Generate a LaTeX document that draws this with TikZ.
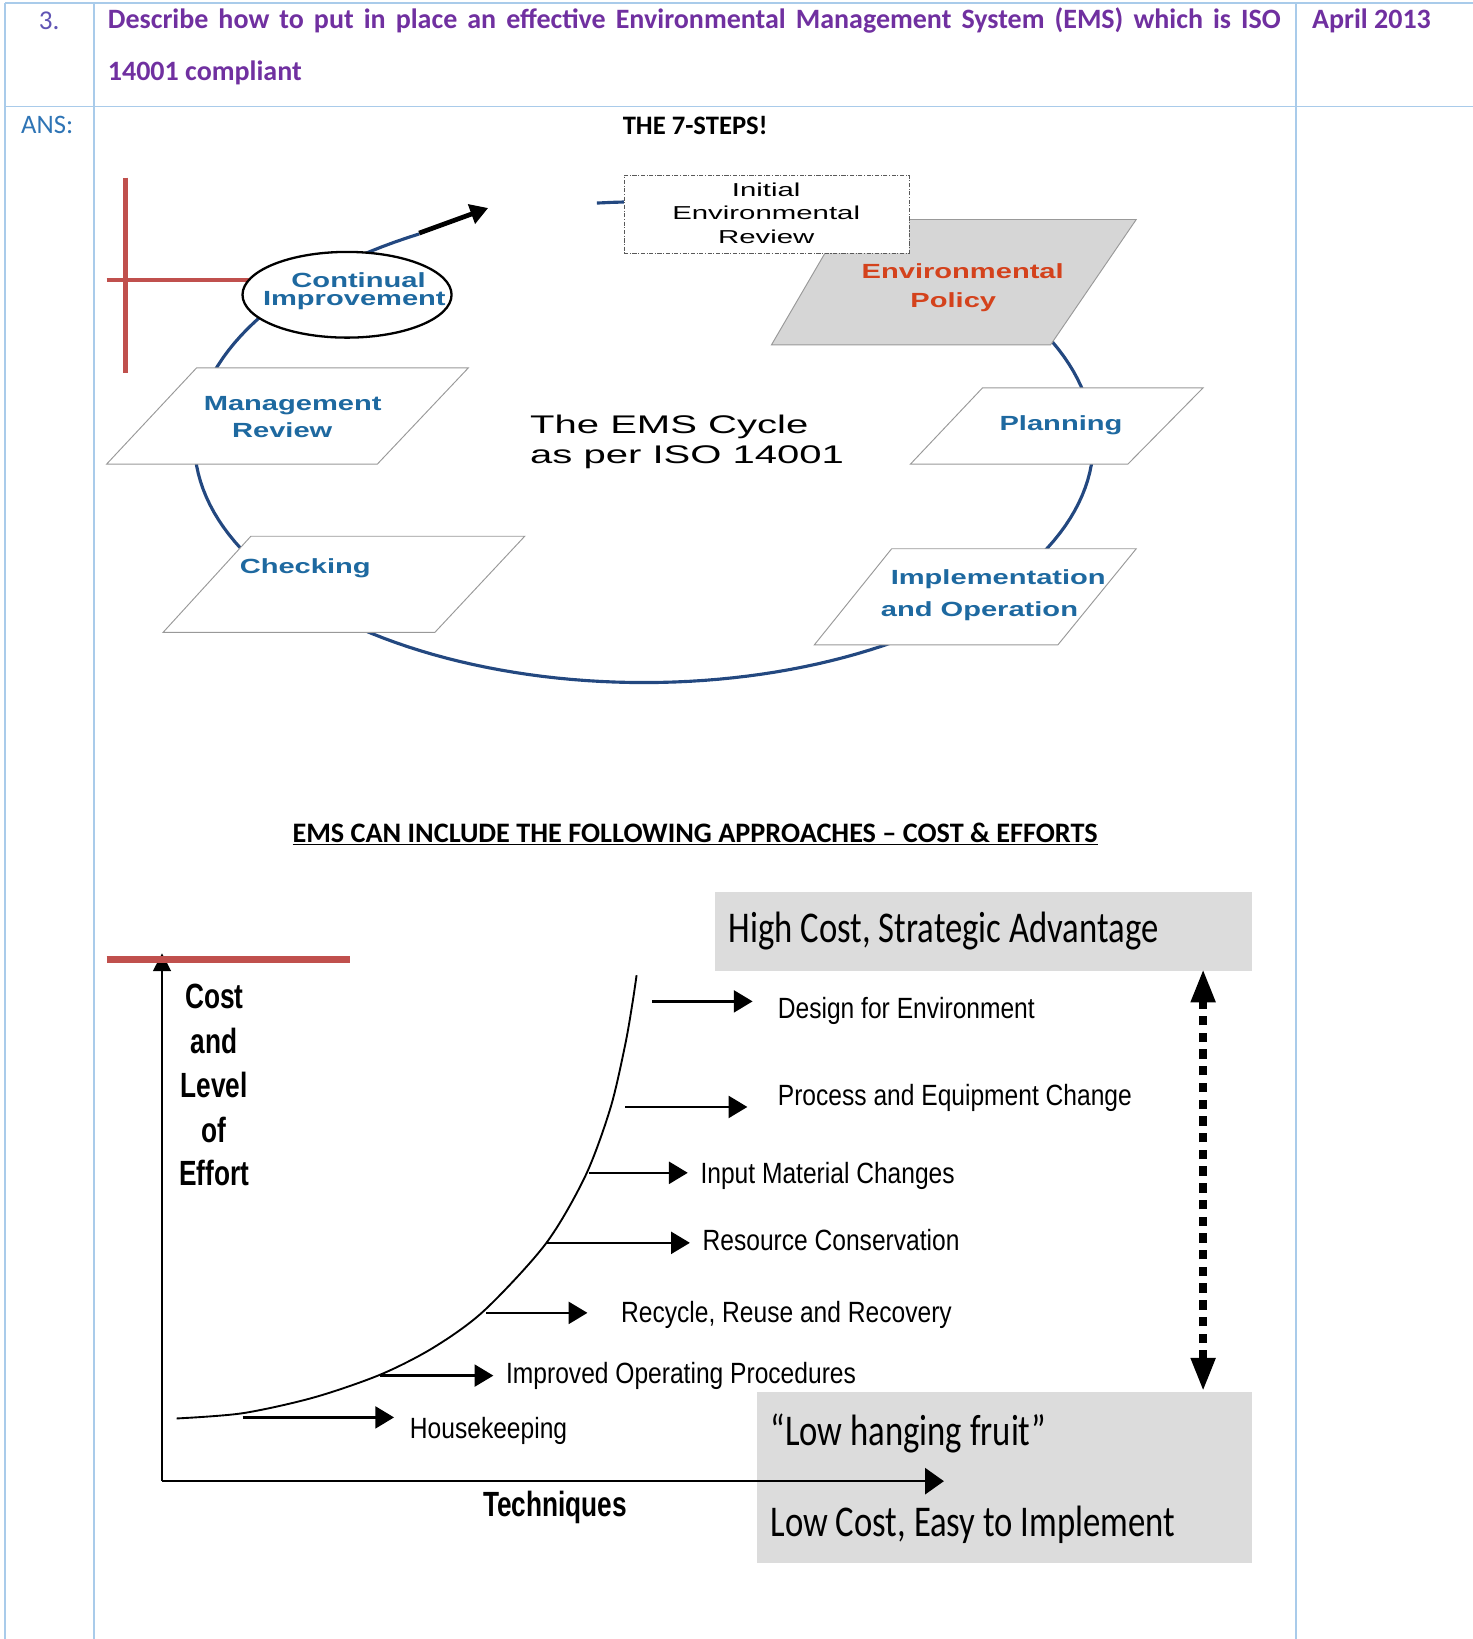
\documentclass[tikz,border=0pt]{standalone}
\usepackage{fontspec}
\setmainfont{Carlito}
\newfontfamily\arialf{Liberation Sans}
\usetikzlibrary{arrows.meta,shapes.geometric}
\definecolor{tbl}{HTML}{A9CBEA}
\definecolor{hdrpurple}{HTML}{7030A0}
\definecolor{numblue}{RGB}{96,84,180}
\definecolor{ansblue}{HTML}{2E74B5}
\definecolor{cycblue}{RGB}{35,72,128}
\definecolor{lblblue}{RGB}{30,105,160}
\definecolor{polred}{RGB}{212,66,28}
\definecolor{crossred}{HTML}{C0504D}
\definecolor{boxgray}{HTML}{DCDCDC}
\definecolor{polgray}{HTML}{D6D6D6}
\newcommand{\wideb}[1]{\scalebox{1.42}[1]{#1}}
\newcommand{\wider}[1]{\scalebox{1.57}[1]{#1}}
\newcommand{\narr}[1]{\scalebox{0.84}[1]{#1}}
\newcommand{\narb}[1]{\scalebox{0.75}[1]{#1}}
\newcommand{\narc}[1]{\scalebox{0.79}[1]{#1}}
\begin{document}
\begin{tikzpicture}[x=1pt,y=-1pt,
  tline/.style={draw=tbl, line width=1.6pt},
  hdr/.style={font=\fontsize{26.8}{30}\selectfont\bfseries, text=hdrpurple, inner sep=0pt, anchor=west},
  cyclbl/.style={font=\arialf\bfseries\fontsize{19.6}{22}\selectfont, text=lblblue, inner sep=0pt},
  revtxt/.style={font=\arialf\fontsize{17.9}{20}\selectfont, inner sep=0pt},
  midtxt/.style={font=\arialf\fontsize{24.4}{28}\selectfont, inner sep=0pt, anchor=west},
  para/.style={draw=gray!80, line width=0.9pt, fill=white},
  lab/.style={font=\arialf\fontsize{28}{32}\selectfont, inner sep=0pt, anchor=west},
  labb/.style={font=\arialf\bfseries\fontsize{33.5}{36}\selectfont, inner sep=0pt},
  bigc/.style={font=\fontsize{42}{46}\selectfont, inner sep=0pt, anchor=west},
  harrow/.style={line width=2.4pt, -{Triangle[length=18pt,width=21pt]}},
]
\useasboundingbox (0,0) rectangle (1409,1568);

% ---------- table ----------
\draw[tline] (5,3) -- (1409,3);
\draw[tline] (5,102) -- (1409,102);
\draw[tline] (5,3) -- (5,1568);
\draw[tline] (90,3) -- (90,1568);
\draw[tline] (1240,3) -- (1240,1568);

\node[font=\fontsize{26}{30}\selectfont, text=numblue, inner sep=0pt] (num) at (47,20) {3.};
\node[hdr] (q1) at (103,20) {\makebox[1122pt][s]{Describe how to put in place an effective Environmental Management System (EMS) which is ISO}};
\node[hdr] (q2) at (103,70) {14001 compliant};
\node[hdr] (date) at (1255,20) {April 2013};
\node[font=\fontsize{25.5}{30}\selectfont, text=ansblue, inner sep=0pt, anchor=west] (ans) at (20,120) {ANS:};
\node[font=\fontsize{25.5}{30}\selectfont\bfseries, inner sep=0pt] (steps) at (665,120) {THE 7-STEPS!};

% ---------- EMS cycle ----------
\draw[crossred, line width=4.5pt] (120,170) -- (120,357);
\draw[crossred, line width=4.5pt] (102,268) -- (240,268);

\draw[cycblue, line width=3pt] plot[domain=120:456, samples=180] ({616+430*cos(\x)},{423-230*sin(\x)});
\draw[line width=4.5pt, -{Triangle[length=17pt,width=19pt]}] (401,223) -- (467,199);

\node[draw, line width=2.2pt, fill=white, ellipse, minimum width=200pt, minimum height=82pt, inner sep=0pt] (ci) at (332,282) {};
\node[cyclbl] (ci1) at (343,268) {\wideb{Continual}};
\node[cyclbl] (ci2) at (339,288) {\wideb{Improvement}};

\draw[draw=gray!80, line width=0.9pt, fill=polgray] (808,210) -- (1087,210) -- (1005,330) -- (738,330) -- cycle;
\node[cyclbl, text=polred] (ep1) at (921,259) {\wideb{Environmental}};
\node[cyclbl, text=polred] (ep2) at (912,289) {\wideb{Policy}};

\node[draw=gray!70!black, dash pattern=on 4pt off 1.5pt on 1pt off 1.5pt, line width=0.8pt, fill=white, minimum width=273pt, minimum height=74pt, inner sep=0pt] (ier) at (733.5,205) {};
\node[revtxt] (ier1) at (733,182) {\wider{Initial}};
\node[revtxt] (ier2) at (733,204) {\wider{Environmental}};
\node[revtxt] (ier3) at (733,227) {\wider{Review}};

\draw[para] (940,371) -- (1151,371) -- (1079,444) -- (871,444) -- cycle;
\node[cyclbl] (plan) at (1015,407) {\wideb{Planning}};

\draw[para] (853,525) -- (1087,525) -- (1012,617) -- (779,617) -- cycle;
\node[cyclbl] (imp1) at (955,554) {\wideb{Implementation}};
\node[cyclbl] (imp2) at (937,585) {\wideb{and Operation}};

\draw[para] (240,513) -- (502,513) -- (416,605) -- (156,605) -- cycle;
\node[cyclbl] (chk) at (292,544) {\wideb{Checking}};

\draw[para] (188,352) -- (448,352) -- (361,444) -- (102,444) -- cycle;
\node[cyclbl] (mr1) at (280,388) {\wideb{Management}};
\node[cyclbl] (mr2) at (270,412) {\wideb{Review}};

\node[midtxt] (mid1) at (507,408) {\wider{The EMS Cycle}};
\node[midtxt] (mid2) at (507,437) {\wider{as per ISO 14001}};

% ---------- lower chart ----------
\node[font=\fontsize{27}{30}\selectfont\bfseries, inner sep=0pt] (title) at (665,798) {\underline{EMS CAN INCLUDE THE FOLLOWING APPROACHES – COST \& EFFORTS}};

\fill[boxgray] (684,853) rectangle (1198,929);
\fill[boxgray] (724,1332) rectangle (1198,1495);
\node[bigc] (hc) at (697,891) {\narc{High Cost, Strategic Advantage}};
\node[bigc] (lh) at (737,1371) {\narc{“Low hanging fruit”}};
\node[bigc] (lc) at (737,1459) {\narc{Low Cost, Easy to Implement}};

\coordinate (yb) at (155,1417);
\coordinate (yt) at (155,912);
\coordinate (xl) at (155,1417);
\coordinate (xr) at (903,1417);
\draw[line width=2pt, -{Triangle[length=17pt,width=17pt]}] (yb) -- (yt);
\draw[line width=2.2pt, -{Triangle[length=18pt,width=25pt]}] (xl) -- (xr);
\draw[crossred, line width=6pt] (102,918) -- (335,918);

\node[labb] (c1) at (205,953) {\narb{Cost}};
\node[labb] (c2) at (205,996) {\narb{and}};
\node[labb] (c3) at (205,1038) {\narb{Level}};
\node[labb] (c4) at (205,1081) {\narb{of}};
\node[labb] (c5) at (205,1122) {\narb{Effort}};
\node[labb] (tech) at (531,1442) {\narb{Techniques}};

\draw[line width=1.8pt] plot[smooth, tension=0.5] coordinates {(169,1357) (232,1352) (300,1337) (364,1315) (415,1289) (463,1254) (522,1190) (560,1125) (584,1060) (598,1000) (605,960) (609,933)};

\coordinate (a1s) at (624,958);  \coordinate (a1e) at (720,958);
\coordinate (a2s) at (598,1059); \coordinate (a2e) at (715,1059);
\coordinate (a3s) at (563,1122); \coordinate (a3e) at (658,1122);
\coordinate (a4s) at (523,1189); \coordinate (a4e) at (660,1189);
\coordinate (a5s) at (465,1256); \coordinate (a5e) at (562,1256);
\coordinate (a6s) at (364,1316); \coordinate (a6e) at (472,1316);
\coordinate (a7s) at (232,1356); \coordinate (a7e) at (377,1356);
\draw[harrow] (a1s) -- (a1e);
\draw[harrow] (a2s) -- (a2e);
\draw[harrow] (a3s) -- (a3e);
\draw[harrow] (a4s) -- (a4e);
\draw[harrow] (a5s) -- (a5e);
\draw[harrow] (a6s) -- (a6e);
\draw[harrow] (a7s) -- (a7e);

\node[lab] (t1) at (744,967) {\narr{Design for Environment}};
\node[lab] (t2) at (744,1050) {\narr{Process and Equipment Change}};
\node[lab] (t3) at (670,1125) {\narr{Input Material Changes}};
\node[lab] (t4) at (672,1186) {\narr{Resource Conservation}};
\node[lab] (t5) at (594,1258) {\narr{Recycle, Reuse and Recovery}};
\node[lab] (t6) at (484,1316) {\narr{Improved Operating Procedures}};
\node[lab] (t7) at (392,1369) {\narr{Housekeeping}};

\coordinate (dt) at (1151,927);
\coordinate (db) at (1151,1331);
\draw[line width=7.5pt, dash pattern=on 9pt off 7pt, {Triangle[length=32pt,width=22pt]}-{Triangle[length=32pt,width=22pt]}] (db) -- (dt);
\end{tikzpicture}
\end{document}
